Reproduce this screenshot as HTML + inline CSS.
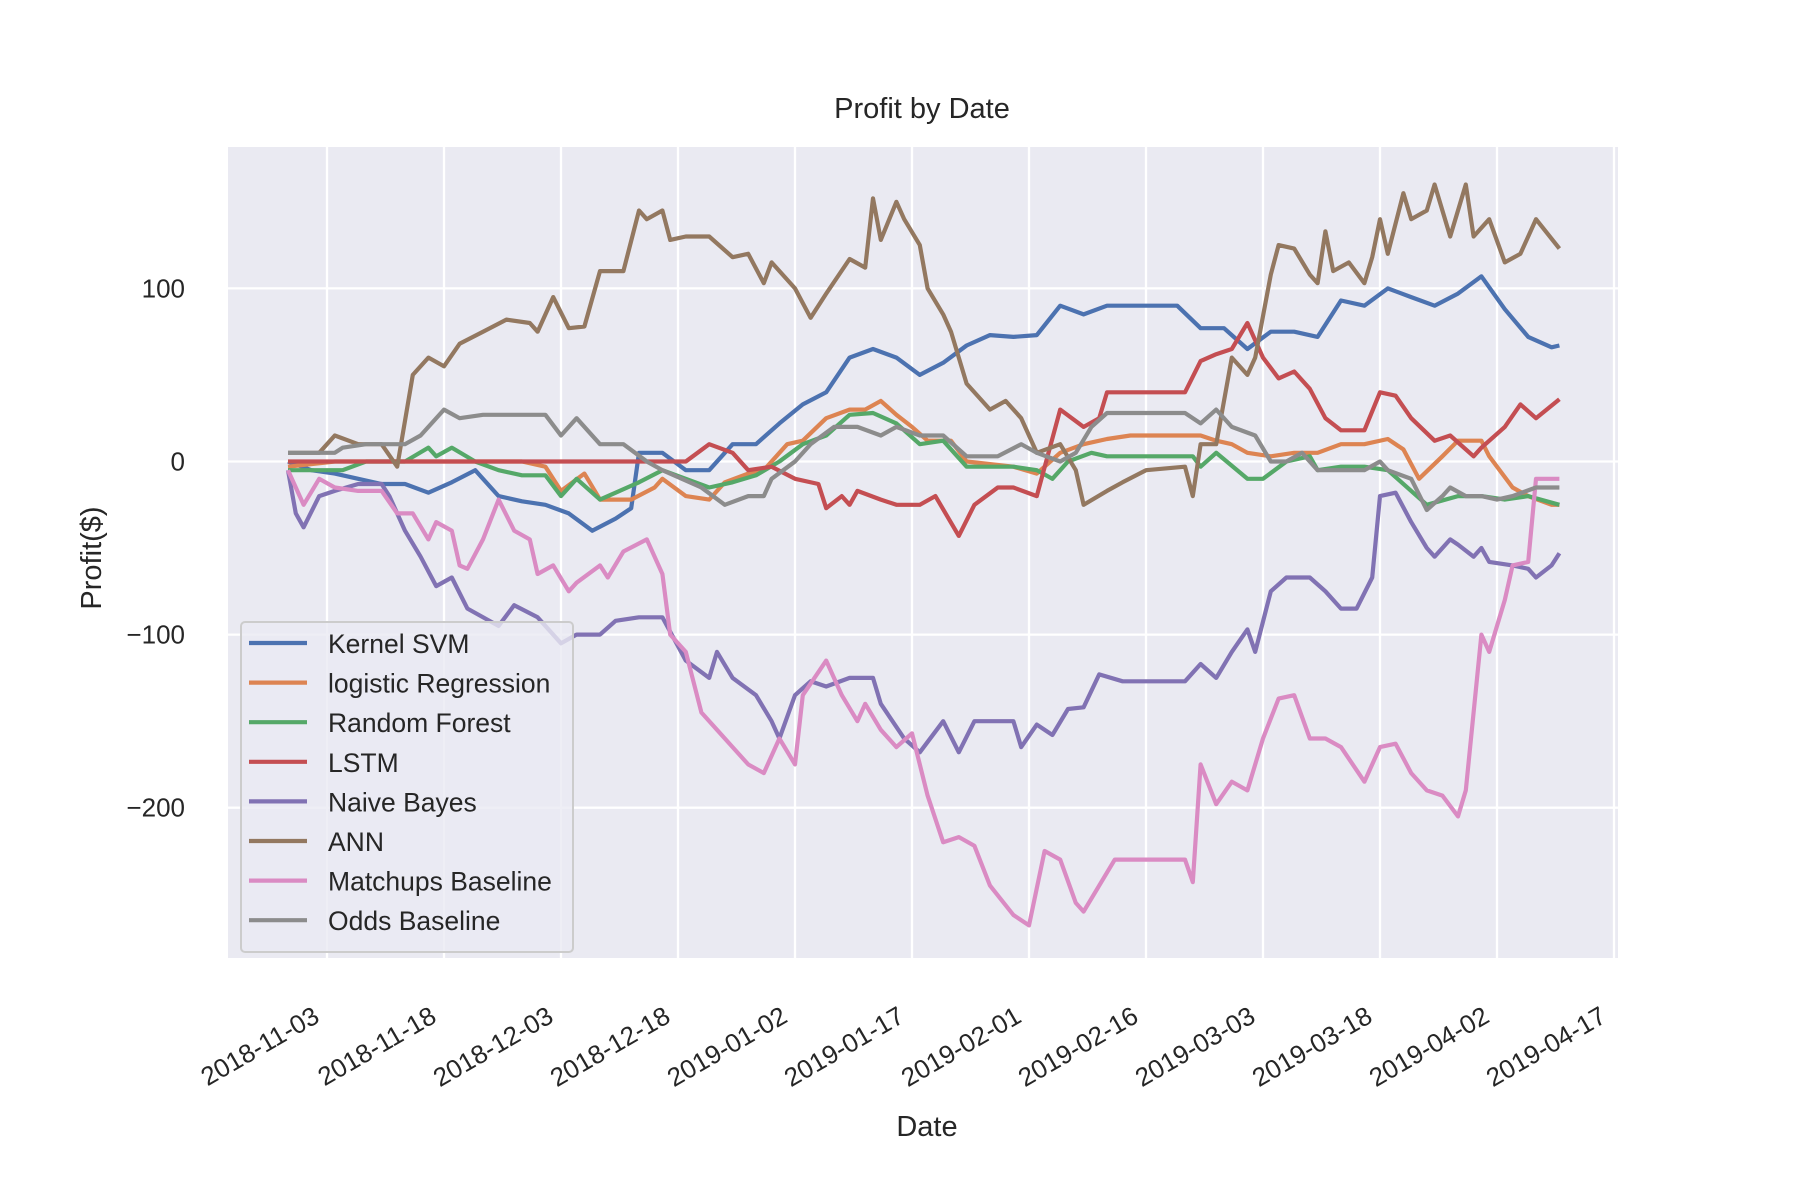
<!DOCTYPE html>
<html><head><meta charset="utf-8"><style>
body{margin:0;background:#fff;}
svg{display:block;font-family:"Liberation Sans",sans-serif;}
</style></head><body>
<svg id="chart" width="1800" height="1200" viewBox="0 0 1800 1200">
<rect x="228" y="147" width="1390" height="811" fill="#EAEAF2"/>
<g id="grid"></g><g id="series"></g><g id="axes"></g><g id="legend"></g>
<text x="922" y="118" font-size="29" text-anchor="middle" fill="#262626">Profit by Date</text>
<text x="927" y="1136" font-size="29" text-anchor="middle" fill="#262626">Date</text>
<text x="0" y="0" font-size="29" text-anchor="middle" fill="#262626" transform="translate(101,558) rotate(-90)">Profit($)</text>
</svg>
<script>
// day 0 = 2018-10-29
const xTickLabels=["2018-11-03","2018-11-18","2018-12-03","2018-12-18","2019-01-02","2019-01-17","2019-02-01","2019-02-16","2019-03-03","2019-03-18","2019-04-02","2019-04-17"];
const xTickDays=[5,20,35,50,65,80,95,110,125,140,155,170];
const yTicks=[100,0,-100,-200];
const seriesNames=["Kernel SVM","logistic Regression","Random Forest","LSTM","Naive Bayes","ANN","Matchups Baseline","Odds Baseline"];
const seriesColors=["#4C72B0","#DD8452","#55A868","#C44E52","#8172B3","#937860","#DA8BC3","#8C8C8C"];
const svmDays=[0,3,6,9,12,15,18,21,24,27,30,33,36,39,42,44,45,48,51,54,57,60,63,66,69,72,75,78,81,84,87,90,93,96,99,102,105,108,111,114,117,120,123,126,129,132,135,138,141,144,147,150,153,156,159,162,163];
const svmVals=[0,-5,-7,-10,-13,-13,-18,-12,-5,-20,-23,-25,-30,-40,-33,-27,5,5,-5,-5,10,10,22,33,40,60,65,60,50,57,67,73,72,73,90,85,90,90,90,90,77,77,65,75,75,72,93,90,100,95,90,97,107,88,72,66,67];
const lrDays=[0,6,30,33,35,38,40,44,47,48,51,54,56,59,61,64,66,69,72,74,76,78,80,82,85,87,93,96,99,102,105,108,116,117,119,121,123,126,129,132,135,138,141,143,145,148,150,153,154,157,159,162,163];
const lrVals=[-3,0,0,-3,-17,-7,-22,-22,-15,-10,-20,-22,-12,-7,-5,10,12,25,30,30,35,27,20,12,12,0,-3,-7,5,10,13,15,15,15,12,10,5,3,5,5,10,10,13,7,-10,3,12,12,3,-15,-20,-25,-25];
const rfDays=[0,7,10,15,18,19,21,24,27,30,33,35,37,40,42,45,48,51,54,57,60,63,66,69,72,75,78,81,84,87,90,93,96,98,100,103,105,116,117,119,123,125,128,131,132,135,138,141,146,150,153,156,159,163];
const rfVals=[-5,-5,0,0,8,3,8,0,-5,-8,-8,-20,-10,-22,-18,-12,-5,-10,-15,-12,-8,0,10,15,27,28,22,10,12,-3,-3,-3,-5,-10,0,5,3,3,-3,5,-10,-10,0,3,-5,-3,-3,-5,-25,-20,-20,-22,-20,-25];
const lstmDays=[0,51,54,57,59,62,65,68,69,71,72,73,76,78,81,83,86,88,91,93,96,99,102,104,105,115,117,119,121,123,125,127,129,131,133,135,138,140,142,144,147,149,152,153,156,158,160,163];
const lstmVals=[0,0,10,5,-5,-3,-10,-13,-27,-20,-25,-17,-22,-25,-25,-20,-43,-25,-15,-15,-20,30,20,25,40,40,58,62,65,80,60,48,52,42,25,18,18,40,38,25,12,15,3,8,20,33,25,36];
const nbDays=[0,1,2,4,6,9,12,13,15,17,19,21,23,27,29,32,35,37,40,42,45,48,51,54,55,57,60,62,63,65,67,69,72,75,76,79,81,84,86,88,93,94,96,98,100,102,104,107,115,117,119,121,123,124,126,128,131,133,135,137,139,140,142,144,146,147,149,150,152,153,154,157,159,160,162,163];
const nbVals=[-5,-30,-38,-20,-17,-13,-13,-20,-40,-55,-72,-67,-85,-95,-83,-90,-105,-100,-100,-92,-90,-90,-115,-125,-110,-125,-135,-150,-160,-135,-127,-130,-125,-125,-140,-160,-168,-150,-168,-150,-150,-165,-152,-158,-143,-142,-123,-127,-127,-117,-125,-110,-97,-110,-75,-67,-67,-75,-85,-85,-67,-20,-18,-35,-50,-55,-45,-48,-55,-50,-58,-60,-62,-67,-60,-53];
const annDays=[0,4,6,9,12,14,16,18,20,22,25,28,31,32,34,36,38,40,43,45,46,48,49,51,54,57,59,61,62,65,67,69,72,74,75,76,78,79,81,82,84,85,87,90,92,94,96,99,101,102,105,107,110,115,116,117,119,121,123,124,126,127,129,131,132,133,134,136,138,139,140,141,143,144,146,147,149,151,152,154,156,158,160,163];
const annVals=[5,5,15,10,10,-3,50,60,55,68,75,82,80,75,95,77,78,110,110,145,140,145,128,130,130,118,120,103,115,100,83,97,117,112,152,128,150,140,125,100,85,75,45,30,35,25,5,10,-5,-25,-17,-12,-5,-3,-20,10,10,60,50,60,108,125,123,108,103,133,110,115,103,118,140,120,155,140,145,160,130,160,130,140,115,120,140,123];
const mbDays=[0,2,4,6,9,12,14,16,18,19,21,22,23,25,27,29,31,32,34,36,37,40,41,43,46,48,49,51,53,55,57,59,61,63,65,66,69,71,73,74,76,78,80,82,84,86,88,90,93,95,97,99,101,102,104,106,108,115,116,117,119,121,123,125,127,129,131,133,135,138,140,142,144,146,148,150,151,153,154,156,157,159,160,163];
const mbVals=[-5,-25,-10,-15,-17,-17,-30,-30,-45,-35,-40,-60,-62,-45,-22,-40,-45,-65,-60,-75,-70,-60,-67,-52,-45,-65,-100,-110,-145,-155,-165,-175,-180,-160,-175,-135,-115,-135,-150,-140,-155,-165,-157,-193,-220,-217,-222,-245,-262,-268,-225,-230,-255,-260,-245,-230,-230,-230,-243,-175,-198,-185,-190,-160,-137,-135,-160,-160,-165,-185,-165,-163,-180,-190,-193,-205,-190,-100,-110,-80,-60,-58,-10,-10];
const oddsDays=[0,6,7,10,15,17,20,22,25,33,35,37,40,43,46,48,53,56,59,61,62,65,67,70,73,76,78,81,84,87,91,94,96,99,101,103,105,115,117,119,121,124,126,128,130,132,138,140,141,144,146,148,149,151,153,155,157,160,163];
const oddsVals=[5,5,8,10,10,15,30,25,27,27,15,25,10,10,0,-5,-15,-25,-20,-20,-10,0,10,20,20,15,20,15,15,3,3,10,5,0,5,20,28,28,22,30,20,15,0,0,5,-5,-5,0,-5,-10,-28,-20,-15,-20,-20,-22,-20,-15,-15];
const allDays=[svmDays,lrDays,rfDays,lstmDays,nbDays,annDays,mbDays,oddsDays];
const allVals=[svmVals,lrVals,rfVals,lstmVals,nbVals,annVals,mbVals,oddsVals];

const NS="http://www.w3.org/2000/svg";
function xS(d){return 288+7.8*d;}
function yS(v){return 461.5-1.731*v;}
function mk(tag,attrs,parent){const e=document.createElementNS(NS,tag);for(const k in attrs)e.setAttribute(k,attrs[k]);parent.appendChild(e);return e;}
const grid=document.getElementById('grid'),axes=document.getElementById('axes'),ser=document.getElementById('series'),leg=document.getElementById('legend');
xTickDays.forEach((d,i)=>{
  const l=mk('line',{x1:xS(d),x2:xS(d),y1:147,y2:958,stroke:'#fff','stroke-width':2.3},grid);
  
  
  const t=mk('text',{x:0,y:0,'font-size':26,'text-anchor':'end',fill:'#262626',transform:`translate(${xS(d)-6},${1021}) rotate(-30)`},axes);
  t.textContent=xTickLabels[i];
  
  
});
yTicks.forEach(v=>{
  const l=mk('line',{x1:228,x2:1618,y1:yS(v),y2:yS(v),stroke:'#fff','stroke-width':2.3},grid);
  
  
  const t=mk('text',{x:185,y:yS(v)+9,'font-size':26,'text-anchor':'end',fill:'#262626'},axes);
  t.textContent=v<0?'\u2212'+Math.abs(v):String(v);
  
  
});
allDays.forEach((days,s)=>{
  const pts=days.map((d,i)=>xS(d).toFixed(1)+','+yS(allVals[s][i]).toFixed(1)).join(' ');
  const p=mk('polyline',{points:pts,fill:'none',stroke:seriesColors[s],'stroke-width':4.2,'stroke-linejoin':'round'},ser);
  
  
});
const box=mk('rect',{x:241,y:622,width:332,height:330,rx:4,fill:'#EAEAF2','fill-opacity':0.8,stroke:'#ccc','stroke-width':2},leg);


seriesNames.forEach((n,i)=>{
  const y=643+39.6*i;
  const l=mk('line',{x1:249,x2:307,y1:y,y2:y,stroke:seriesColors[i],'stroke-width':4.2},leg);
  
  
  const t=mk('text',{x:328,y:y+10,'font-size':26.5,fill:'#262626'},leg);
  t.textContent=n;
  
  
});
</script>
</body></html>
